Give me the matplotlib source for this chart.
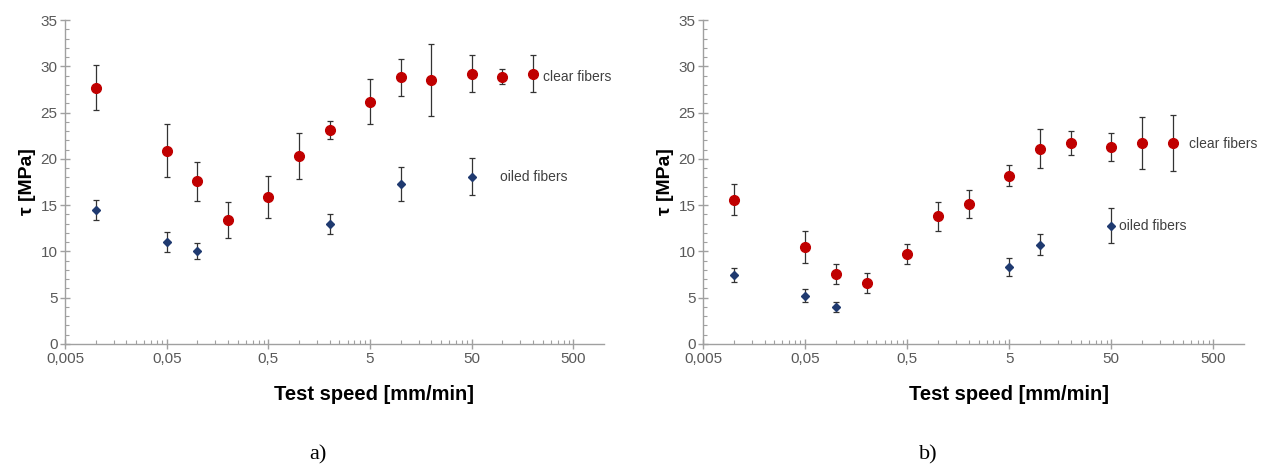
#!/usr/bin/env python3
"""Pull-out shear strength vs test speed, clear and oiled fibers (a, b)."""

import matplotlib.pyplot as plt
from matplotlib.ticker import FixedLocator, FuncFormatter, MultipleLocator

# speeds [mm/min]
SPEED_CLEAR = [0.01, 0.05, 0.1, 0.2, 0.5, 1, 2, 5, 10, 20, 50, 100, 200]

# panel a)
A_CLEAR = [27.7, 20.9, 17.6, 13.4, 15.9, 20.3, 23.1, 26.2, 28.8, 28.5, 29.2, 28.9, 29.2]
A_CLEAR_ERR = [2.4, 2.85, 2.1, 1.9, 2.3, 2.45, 1.0, 2.45, 2.05, 3.9, 2.0, 0.8, 2.0]
A_SPEED_OILED = [0.01, 0.05, 0.1, 2, 10, 50]
A_OILED = [14.5, 11.0, 10.05, 13.0, 17.3, 18.1]
A_OILED_ERR = [1.05, 1.1, 0.9, 1.1, 1.8, 1.95]

# panel b)
B_CLEAR = [15.6, 10.5, 7.55, 6.6, 9.7, 13.8, 15.1, 18.2, 21.1, 21.7, 21.3, 21.7, 21.7]
B_CLEAR_ERR = [1.65, 1.7, 1.1, 1.1, 1.1, 1.55, 1.5, 1.1, 2.1, 1.3, 1.5, 2.8, 3.0]
B_SPEED_OILED = [0.01, 0.05, 0.1, 5, 10, 50]
B_OILED = [7.5, 5.2, 4.0, 8.3, 10.75, 12.8]
B_OILED_ERR = [0.75, 0.7, 0.55, 1.0, 1.15, 1.9]

MAJOR_X = [0.005, 0.05, 0.5, 5, 50, 500]
PANEL_LABELS = ["a)", "b)"]

RED = "#c00000"
BLUE = "#1f3a70"
AXIS_GREY = "#a0a0a0"
TEXT_GREY = "#595959"


def fmt_speed(v, pos):
    return f"{v:g}".replace(".", ",")


def draw_panel(ax, clear, clear_err, sp_oiled, oiled, oiled_err,
               clear_lbl, oiled_lbl, xlabel_x):
    ax.errorbar(sp_oiled, oiled, yerr=oiled_err, fmt="D", ms=4.5,
                color=BLUE, ecolor="#333333", elinewidth=0.9, capsize=2,
                capthick=0.9, zorder=3)
    ax.errorbar(SPEED_CLEAR, clear, yerr=clear_err, fmt="o", ms=7,
                color=RED, ecolor="#333333", elinewidth=0.9, capsize=2,
                capthick=0.9, zorder=3)

    ax.set_xscale("log")
    ax.set_xlim(0.005, 1000)
    ax.set_ylim(0, 35)

    ax.xaxis.set_major_locator(FixedLocator(MAJOR_X))
    minors = [k * m for m in MAJOR_X for k in range(2, 10) if k * m < 1000]
    ax.xaxis.set_minor_locator(FixedLocator(minors))
    ax.xaxis.set_major_formatter(FuncFormatter(fmt_speed))
    ax.xaxis.set_minor_formatter(FuncFormatter(lambda v, p: ""))
    ax.yaxis.set_major_locator(MultipleLocator(5))
    ax.yaxis.set_minor_locator(MultipleLocator(1))

    for side in ["top", "right"]:
        ax.spines[side].set_visible(False)
    for side in ["left", "bottom"]:
        ax.spines[side].set_color(AXIS_GREY)
        ax.spines[side].set_linewidth(1.0)

    ax.tick_params(which="major", direction="inout", length=7, width=1.0,
                   color=AXIS_GREY, labelcolor=TEXT_GREY, labelsize=11, pad=2)
    ax.tick_params(which="minor", direction="in", length=3, width=0.8,
                   color=AXIS_GREY)

    ax.set_xlabel("Test speed [mm/min]", fontsize=14.5, fontweight="bold")
    ax.xaxis.set_label_coords(xlabel_x, -0.127)
    ax.set_ylabel("τ [MPa]", fontsize=14, fontweight="bold", labelpad=3)

    ax.text(clear_lbl[0], clear_lbl[1], "clear fibers", fontsize=10,
            color="#404040", va="center", ha="left")
    ax.text(oiled_lbl[0], oiled_lbl[1], "oiled fibers", fontsize=10,
            color="#404040", va="center", ha="left")


def main():
    plt.rcParams["font.family"] = ["Liberation Sans", "DejaVu Sans"]

    fig = plt.figure(figsize=(12.73, 4.68), dpi=100)
    ax_a = fig.add_axes([0.0511, 0.265, 0.4234, 0.692])
    ax_b = fig.add_axes([0.5523, 0.265, 0.425, 0.692])

    draw_panel(ax_a, A_CLEAR, A_CLEAR_ERR, A_SPEED_OILED, A_OILED,
               A_OILED_ERR, (250, 28.9), (95, 18.0), 0.573)
    draw_panel(ax_b, B_CLEAR, B_CLEAR_ERR, B_SPEED_OILED, B_OILED,
               B_OILED_ERR, (290, 21.6), (60, 12.7), 0.566)

    for x, letter in zip([0.25, 0.729], PANEL_LABELS):
        fig.text(x, 0.028, letter, ha="center", va="center", fontsize=16,
                 family="Liberation Serif")

    fig.savefig("out.png", dpi=100)


if __name__ == "__main__":
    main()
